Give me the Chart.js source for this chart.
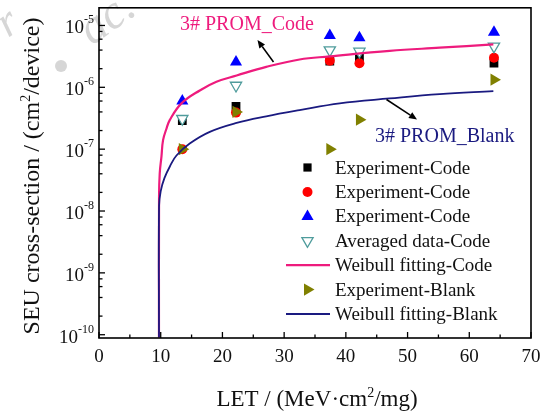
<!DOCTYPE html>
<html><head><meta charset="utf-8">
<script src="https://cdn.jsdelivr.net/npm/chart.js@4.4.1/dist/chart.umd.min.js"></script>
<style>html,body{margin:0;padding:0;background:#fff;}canvas{display:block;}</style>
</head><body>
<canvas id="c" width="549" height="416"></canvas>
<script>
// ---- data ----
const letValues = [13.5, 22.2, 37.4, 42.2, 64.0];
const expCodeSquare = [2.9e-7, 4.9e-7, 2.65e-6, 3.1e-6, 2.45e-6];
const expCodeCircle = [1.0e-7, 3.9e-7, 2.7e-6, 2.45e-6, 3.0e-6];
const expCodeTriangle = [6.0e-7, 2.56e-6, 6.9e-6, 6.3e-6, 7.8e-6];
const avgCode = [3.1e-7, 1.07e-6, 4.0e-6, 3.8e-6, 4.6e-6];
const expBlank = [1.0e-7, 4.0e-7, 1.0e-7, 3.0e-7, 1.33e-6];
const fitCodeLET = [9.72, 9.73, 9.84, 10.12, 10.38, 10.93, 11.46, 13.36, 16.33, 19.03, 22.3, 27.1, 32.5, 37.4, 47.1, 55.2, 63.9];
const fitCodeVal = [9e-11, 1.7e-8, 4.07e-8, 7.6e-8, 1.4e-7, 2.14e-7, 2.95e-7, 5.5e-7, 8.9e-7, 1.23e-6, 1.55e-6, 2.14e-6, 2.82e-6, 3.16e-6, 3.89e-6, 4.37e-6, 4.94e-6];
const fitBlankLET = [9.72, 9.73, 10.0, 10.6, 11.5, 12.55, 14.7, 17.95, 22.3, 27.1, 32.5, 39.0, 47.1, 55.2, 63.9];
const fitBlankVal = [9e-11, 1.2e-8, 2.1e-8, 3.4e-8, 5.3e-8, 7.9e-8, 1.23e-7, 1.9e-7, 2.65e-7, 3.39e-7, 4.27e-7, 5.5e-7, 6.6e-7, 7.76e-7, 8.7e-7];
const xTickLabels = [0, 10, 20, 30, 40, 50, 60, 70];
const yTickExponents = [-5, -6, -7, -8, -9, -10];
const legendLabels = ['Experiment-Code', 'Experiment-Code', 'Experiment-Code', 'Averaged data-Code', 'Weibull fitting-Code', 'Experiment-Blank', 'Weibull fitting-Blank'];

const PINK = '#ee1b7d', NAVY = '#1a1a80', OLIVE = '#808000', TEAL = '#4f9c9c';
const SERIF = "'Liberation Serif','Times New Roman',serif";

function pts(xa, ya) { return xa.map((x, i) => ({ x: x, y: ya[i] })); }

const datasets = [
  { label: legendLabels[0], data: pts(letValues, expCodeSquare), showLine: false, pointStyle: 'rect', pointRadius: 6.2,
    pointBackgroundColor: '#000', pointBorderColor: '#000', pointBorderWidth: 0, order: 7 },
  { label: legendLabels[1], data: pts(letValues, expCodeCircle), showLine: false, pointStyle: 'circle', pointRadius: 5,
    pointBackgroundColor: '#ff0000', pointBorderColor: '#ff0000', pointBorderWidth: 0, order: 6 },
  { label: legendLabels[2], data: pts(letValues, expCodeTriangle), showLine: false, pointStyle: 'triangle', pointRadius: 7,
    pointBackgroundColor: '#0000ff', pointBorderColor: '#0000ff', pointBorderWidth: 0, order: 5 },
  { label: legendLabels[3], data: pts(letValues, avgCode), showLine: false, pointStyle: 'triangle', pointRotation: 180, pointRadius: 6.5,
    pointBackgroundColor: '#ffffff', pointBorderColor: TEAL, pointBorderWidth: 1.3, order: 4 },
  { label: legendLabels[4], data: pts(fitCodeLET, fitCodeVal), showLine: true, pointRadius: 0, borderColor: PINK, borderWidth: 2.2,
    tension: 0.4, fill: false, order: 3 },
  { label: legendLabels[5], data: pts(letValues, expBlank), showLine: false, pointStyle: 'triangle', pointRotation: 90, pointRadius: 7,
    pointBackgroundColor: OLIVE, pointBorderColor: OLIVE, pointBorderWidth: 0, order: 2 },
  { label: legendLabels[6], data: pts(fitBlankLET, fitBlankVal), showLine: true, pointRadius: 0, borderColor: NAVY, borderWidth: 1.8,
    tension: 0.4, fill: false, order: 1 }
];

function richWidth(ctx, parts) {
  let w = 0;
  for (const p of parts) { ctx.font = p.size + 'px ' + SERIF; w += ctx.measureText(p.t).width; }
  return w;
}
function drawRich(ctx, parts, x, y, align) {
  const w = richWidth(ctx, parts);
  let cx = align === 'right' ? x - w : (align === 'center' ? x - w / 2 : x);
  ctx.textAlign = 'left'; ctx.textBaseline = 'alphabetic';
  for (const p of parts) {
    ctx.font = p.size + 'px ' + SERIF;
    ctx.fillText(p.t, cx, y + (p.dy || 0));
    cx += ctx.measureText(p.t).width;
  }
}
function line(ctx, x1, y1, x2, y2) { ctx.beginPath(); ctx.moveTo(x1, y1); ctx.lineTo(x2, y2); ctx.stroke(); }
function arrow(ctx, x1, y1, x2, y2) {
  ctx.strokeStyle = '#000'; ctx.fillStyle = '#000'; ctx.lineWidth = 1.5;
  const a = Math.atan2(y2 - y1, x2 - x1), L = 8, W = 3.5;
  const bx = x2 - L * Math.cos(a), by = y2 - L * Math.sin(a);
  line(ctx, x1, y1, bx, by);
  ctx.beginPath(); ctx.moveTo(x2, y2);
  ctx.lineTo(bx + W * Math.sin(a), by - W * Math.cos(a));
  ctx.lineTo(bx - W * Math.sin(a), by + W * Math.cos(a));
  ctx.closePath(); ctx.fill();
}

const decorPlugin = {
  id: 'decor',
  beforeDraw(chart) {
    const ctx = chart.ctx;
    ctx.save();
    ctx.fillStyle = '#fff'; ctx.fillRect(0, 0, chart.width, chart.height);
    // faint watermark
    ctx.fillStyle = 'rgba(200,200,200,0.75)';
    ctx.beginPath(); ctx.arc(61, 66, 6, 0, Math.PI * 2); ctx.fill();
    ctx.save();
    ctx.translate(92, 46); ctx.rotate(-0.62);
    ctx.font = 'italic 48px ' + SERIF;
    ctx.fillText('ac.', 0, 0);
    ctx.restore();
    ctx.save();
    ctx.translate(8, 38); ctx.rotate(-0.62);
    ctx.font = 'italic 44px ' + SERIF;
    ctx.fillText('r', 0, 0);
    ctx.restore();
    ctx.restore();
  },
  afterDraw(chart) {
    const ctx = chart.ctx, ca = chart.chartArea, xs = chart.scales.x, ys = chart.scales.y;
    ctx.save();
    ctx.strokeStyle = '#000'; ctx.fillStyle = '#000';
    // frame
    ctx.lineWidth = 1.6;
    ctx.strokeRect(ca.left, ca.top, ca.right - ca.left, ca.bottom - ca.top);
    // x ticks (inside)
    ctx.lineWidth = 1.3;
    for (let v = 0; v <= 70; v += 5) {
      const px = xs.getPixelForValue(v);
      line(ctx, px, ca.bottom, px, ca.bottom - (v % 10 === 0 ? 6 : 3.5));
    }
    // y ticks (inside)
    for (let e = -11; e <= -4; e++) {
      for (const m of [1, 2, 4, 6, 8]) {
        const v = m * Math.pow(10, e);
        if (v < ys.min * 0.999 || v > ys.max) continue;
        const py = ys.getPixelForValue(v);
        line(ctx, ca.left, py, ca.left + (m === 1 ? 6 : 3.5), py);
      }
    }
    // x tick labels
    ctx.fillStyle = '#111';
    for (const v of xTickLabels) {
      drawRich(ctx, [{ t: String(v), size: 19 }], xs.getPixelForValue(v), 361.5, 'center');
    }
    // y tick labels
    for (const e of yTickExponents) {
      const py = ys.getPixelForValue(Math.pow(10, e));
      drawRich(ctx, [{ t: '10', size: 19, dy: 0 }, { t: String(e), size: 12, dy: -10 }], 94, py + 8, 'right');
    }
    // axis titles
    drawRich(ctx, [{ t: 'LET / (MeV\u00b7cm', size: 23 }, { t: '2', size: 14, dy: -9 }, { t: '/mg)', size: 23 }], 317, 406, 'center');
    ctx.save();
    ctx.translate(39, 176); ctx.rotate(-Math.PI / 2);
    drawRich(ctx, [{ t: 'SEU cross-section / (cm', size: 24 }, { t: '2', size: 14, dy: -9 }, { t: '/device)', size: 24 }], 0, 0, 'center');
    ctx.restore();
    // annotations
    ctx.fillStyle = PINK;
    drawRich(ctx, [{ t: '3# PROM_Code', size: 20 }], 180, 29.5, 'left');
    ctx.fillStyle = NAVY;
    drawRich(ctx, [{ t: '3# PROM_Blank', size: 20 }], 375, 141.5, 'left');
    arrow(ctx, 273.5, 62, 257.5, 40);
    arrow(ctx, 386.5, 99.5, 417, 119.5);
    // legend
    const rows = [167.5, 192, 216.4, 240.8, 265.2, 289.6, 314];
    const mx = 307.5, tx = 335;
    const H = Chart.helpers;
    rows.forEach((ry, i) => {
      const ds = datasets[i];
      ctx.save();
      if (ds.showLine) {
        ctx.strokeStyle = ds.borderColor; ctx.lineWidth = ds.borderWidth;
        line(ctx, 286, ry, 330, ry);
      } else {
        ctx.fillStyle = ds.pointBackgroundColor; ctx.strokeStyle = ds.pointBorderColor;
        ctx.lineWidth = ds.pointBorderWidth;
        H.drawPoint(ctx, { pointStyle: ds.pointStyle, rotation: ds.pointRotation || 0,
          radius: ds.pointStyle === 'rect' ? 5.8 : ds.pointRadius, borderWidth: ds.pointBorderWidth }, mx, ry);
      }
      ctx.restore();
      ctx.fillStyle = '#111';
      drawRich(ctx, [{ t: legendLabels[i], size: 19 }], tx, ry + 6, 'left');
    });
    ctx.restore();
  }
};

new Chart(document.getElementById('c'), {
  type: 'scatter',
  data: { datasets: datasets },
  options: {
    responsive: false,
    animation: false,
    devicePixelRatio: 1,
    layout: { padding: { left: 99, right: 18, top: 7, bottom: 78 } },
    scales: {
      x: { type: 'linear', min: 0, max: 70, display: false },
      y: { type: 'logarithmic', min: Math.pow(10, -10.053), max: Math.pow(10, -4.7145), display: false }
    },
    plugins: { legend: { display: false }, tooltip: { enabled: false } }
  },
  plugins: [decorPlugin]
});
</script>
</body></html>
